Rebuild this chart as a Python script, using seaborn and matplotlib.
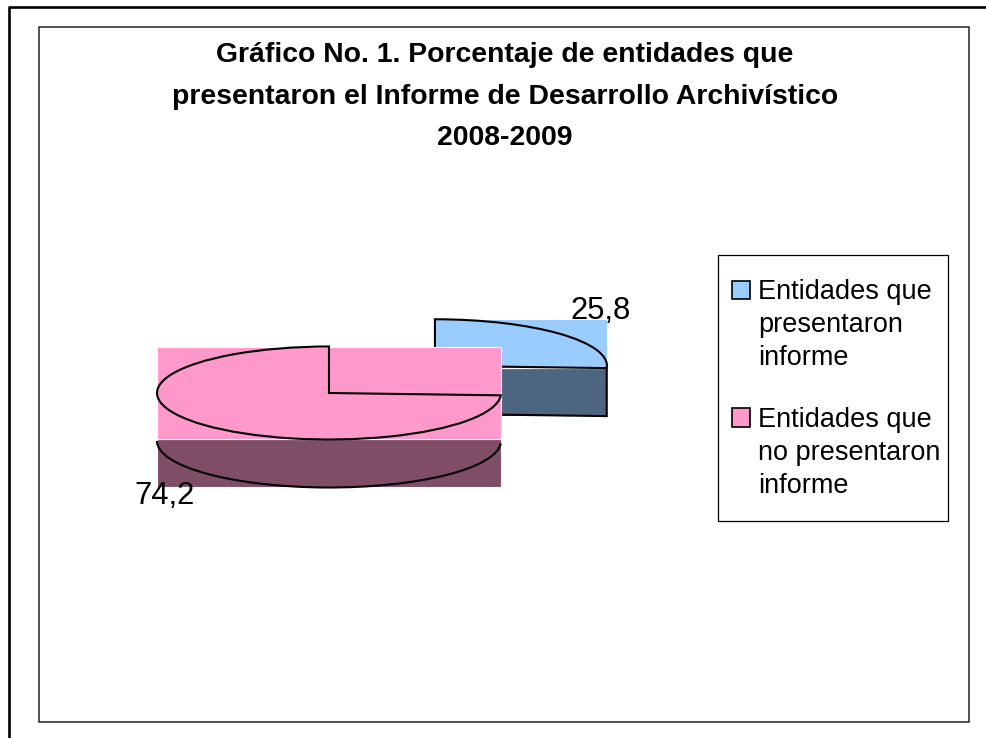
import seaborn as sns
import matplotlib.pyplot as plt
from matplotlib.legend_handler import HandlerPatch
from matplotlib.patches import Arc, Patch, Polygon, Rectangle
from matplotlib.transforms import Affine2D
import numpy as np

title_lines = [
    "Gráfico No. 1. Porcentaje de entidades que",
    "presentaron el Informe de Desarrollo Archivístico",
    "2008-2009",
]
labels = ["Entidades que\npresentaron\ninforme", "Entidades que\nno presentaron\ninforme"]
values = [25.8, 74.2]
top_colors = ["#99ccff", "#ff99cc"]
side_colors = ["#4d6680", "#804d66"]

sns.set_theme(style="white")
plt.rcParams["font.family"] = ["Liberation Sans", "DejaVu Sans"]

W, H = 986, 738
fig = plt.figure(figsize=(W / 100, H / 100), dpi=100)
ax = fig.add_axes([0, 0, 1, 1])

# pixel coordinates of the picture, for frames and text
px = Affine2D().scale(1, -1).translate(0, H)

# pie is flattened by the axes limits: one data unit = rx / ry pixels
cx, cy, rx, ry = 329, 393, 172, 46.5
depth = 48 / ry

wedges, _ = ax.pie(
    values,
    explode=[0.85, 0],
    startangle=90,
    counterclock=False,
    colors=top_colors,
    wedgeprops=dict(fill=False, edgecolor="black", linewidth=1.5),
)
ax.set_aspect("auto")
ax.set_xlim((0 - cx) / rx, (W - cx) / rx)
ax.set_ylim((cy - H) / ry, cy / ry)
ax.axis("off")

# outer page lines and the chart frame
ax.plot([9, 9, W], [H, 7, 7], color="black", lw=1.9, transform=px, clip_on=False)
ax.add_patch(
    Rectangle((39, 27), 930, 695, fill=False, edgecolor="#222222", lw=1.1, transform=px)
)

# flat rectangles behind each slice, as the original renderer left them
for i, w in enumerate(wedges):
    box = w.get_path().get_extents()
    z = 1 if i == 0 else 4
    ax.add_patch(
        Rectangle((box.x0, box.y0 - depth), box.width, depth, facecolor=side_colors[i],
                  edgecolor="white", lw=0.8, zorder=z)
    )
    ax.add_patch(
        Rectangle((box.x0, box.y0), box.width, box.height, facecolor=top_colors[i],
                  edgecolor="white", lw=0.8, zorder=z)
    )

# blue slice: side outline below its flat edge
blue = wedges[0]
blue.set_zorder(2)
bx, by = blue.center
end = np.deg2rad(blue.theta1)
ex, ey = bx + np.cos(end), by + np.sin(end)
ax.add_patch(
    Polygon([(ex, ey), (ex, ey - depth), (bx, by - depth)], closed=False, fill=False,
            edgecolor="black", lw=1.5, zorder=2)
)

# pink slice: top outline and lower rim
pink = wedges[1]
pink.set_zorder(5)
ax.add_patch(
    Arc((0, -depth), 2, 2, theta1=180, theta2=360 + pink.theta2,
        color="black", lw=1.5, zorder=5)
)

# data labels
ax.text(601, 311, str(values[0]).replace(".", ","), transform=px, fontsize=22.3,
        ha="center", va="center", color="black", zorder=6)
ax.text(164, 496, str(values[1]).replace(".", ","), transform=px, fontsize=22.3,
        ha="center", va="center", color="black", zorder=6)

ax.text(505, 96.5, "\n".join(title_lines), transform=px, fontsize=20.4, fontweight="bold",
        ha="center", va="center", linespacing=1.77, color="black")


# legend square sits on the first text line, not the middle one
def first_line_patch(legend, orig_handle, xdescent, ydescent, width, height, fontsize):
    return Rectangle((-xdescent, -ydescent + 25.7), width, height)


ax.add_patch(
    Rectangle((718, 255), 230, 266, facecolor="white", edgecolor="black", lw=0.9,
              transform=px, zorder=6)
)
handles = [Patch(facecolor=c, edgecolor="black", lw=1.2) for c in top_colors]
leg = ax.legend(
    handles,
    labels,
    loc="upper left",
    bbox_to_anchor=(732, 279),
    bbox_transform=px,
    fontsize=19.5,
    frameon=False,
    borderpad=0,
    borderaxespad=0,
    labelspacing=1.3,
    handlelength=0.66,
    handleheight=0.66,
    handletextpad=0.3,
    labelcolor="black",
    handler_map={Patch: HandlerPatch(patch_func=first_line_patch)},
)
for t in leg.get_texts():
    t.set_linespacing(1.36)
leg.set_zorder(7)

fig.savefig("out.png", dpi=100)
